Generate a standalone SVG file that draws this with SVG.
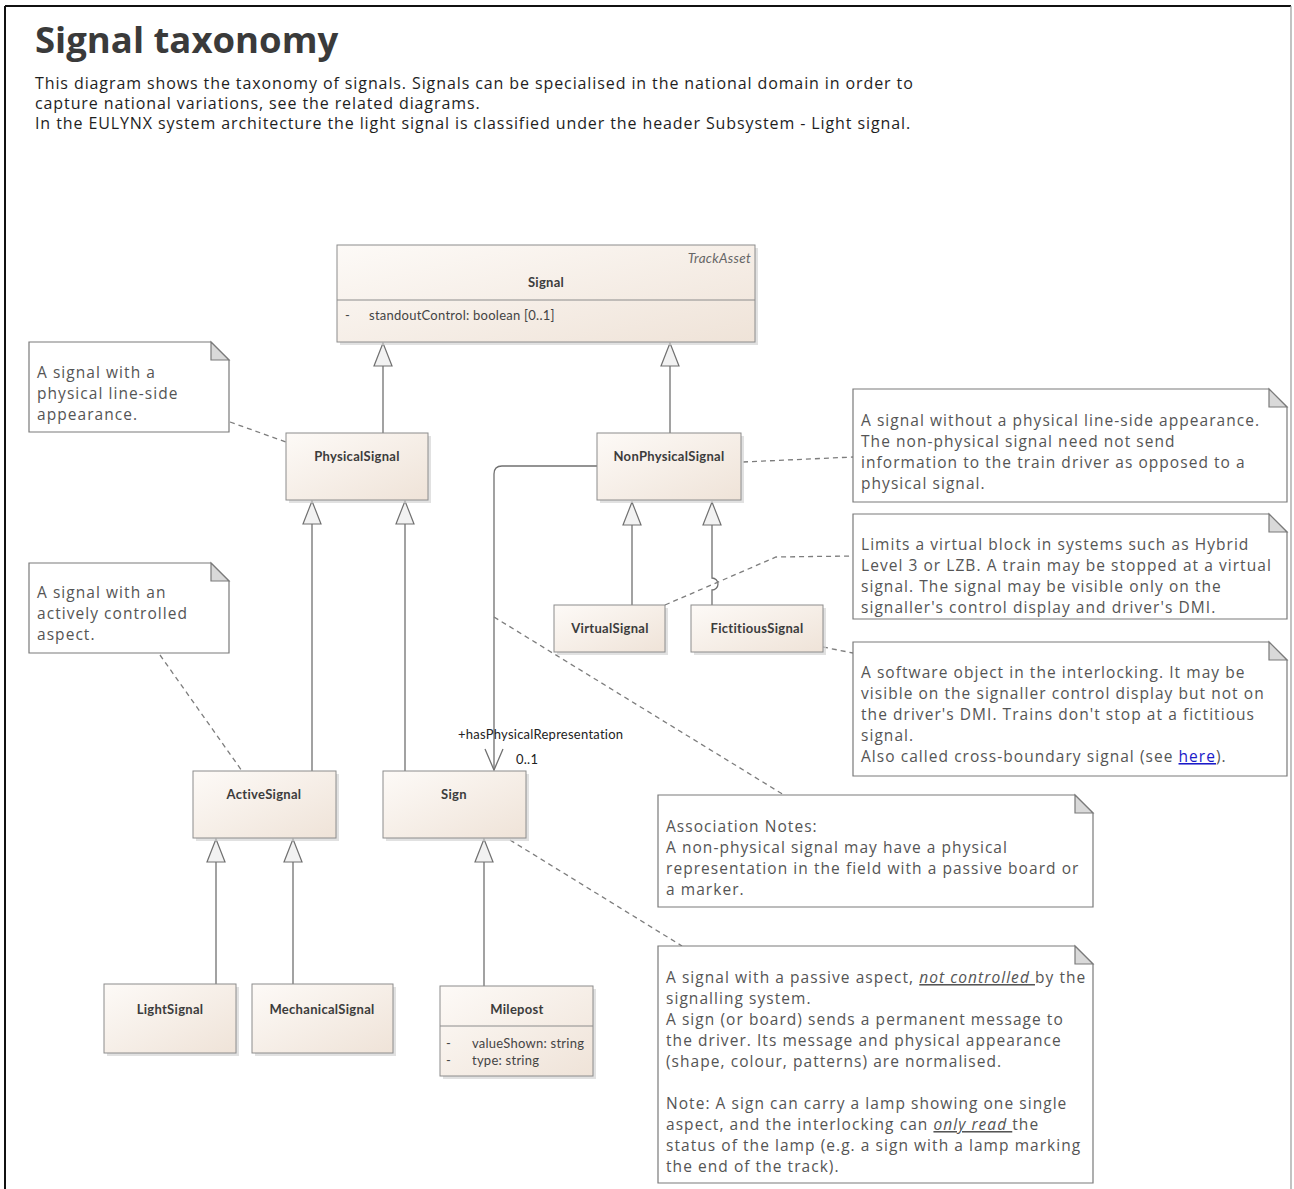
<svg xmlns="http://www.w3.org/2000/svg" width="1294" height="1189" viewBox="0 0 1294 1189">
  <defs>
    <linearGradient id="classFill" x1="0" y1="0" x2="1" y2="1">
      <stop offset="0" stop-color="#fdfaf7"/>
      <stop offset="1" stop-color="#efe3d8"/>
    </linearGradient>
    <!-- hollow generalization triangle, tip at the end of the path -->
    <marker id="genArrow" markerWidth="26" markerHeight="22" refX="25" refY="11" orient="auto" markerUnits="userSpaceOnUse" viewBox="0 0 26 22">
      <path d="M25,11 L2,2 L2,20 Z" fill="#f2f2f2" stroke="#707070" stroke-width="1.2"/>
    </marker>
  </defs>
  <style>
    .frame { fill: #ffffff; stroke: none; }
    .title { font-family: "Open Sans", "Noto Sans", sans-serif; font-weight: bold; font-size: 36.5px; fill: #3a3a3a; }
    .intro { font-family: "Open Sans", "Noto Sans", sans-serif; font-size: 16px; letter-spacing: 0.9px; fill: #1e1e1e; }
    .cls { fill: url(#classFill); stroke: #8c8c8c; stroke-width: 1; }
    .shadow { fill: #d4d4d4; opacity: 0.7; }
    .cname { font-family: Lato, "Liberation Sans", sans-serif; font-weight: bold; font-size: 13px; letter-spacing: 0.3px; fill: #3c3c3c; text-anchor: middle; }
    .attr { font-family: Lato, "Liberation Sans", sans-serif; font-size: 13px; letter-spacing: 0.25px; fill: #444; }
    .stereo { font-family: Lato, "Liberation Sans", sans-serif; font-style: italic; font-size: 13.5px; letter-spacing: 0.3px; fill: #666; text-anchor: end; }
    .note { fill: #ffffff; stroke: #7a7a7a; stroke-width: 1.2; }
    .fold { fill: #d9d9d9; stroke: #7a7a7a; stroke-width: 1.2; }
    .ntext { font-family: "Open Sans", "Noto Sans", sans-serif; font-size: 15.5px; letter-spacing: 1.05px; fill: #555555; }
    .gen { fill: none; stroke: #707070; stroke-width: 1.3; }
    .assoc { fill: none; stroke: #707070; stroke-width: 1.3; }
    .link { fill: none; stroke: #7d7d7d; stroke-width: 1.3; stroke-dasharray: 5 4; }
    .lbl { font-family: Lato, "Liberation Sans", sans-serif; font-size: 13px; letter-spacing: 0.25px; fill: #222; }
    .link-text { fill: #1a1ac8; text-decoration: underline; }
  </style>

  <!-- page frame -->
  <rect class="frame" x="0" y="0" width="1294" height="1189"/>
  <line x1="5" y1="6" x2="1291" y2="6" stroke="#111" stroke-width="2"/>
  <line x1="5" y1="6" x2="5" y2="1189" stroke="#111" stroke-width="2"/>
  <line x1="1291" y1="6" x2="1291" y2="1189" stroke="#9a9a9a" stroke-width="1.2"/>

  <!-- heading and description -->
  <text class="title" x="35" y="53">Signal taxonomy</text>
  <text class="intro" x="35" y="89">This diagram shows the taxonomy of signals. Signals can be specialised in the national domain in order to</text>
  <text class="intro" x="35" y="109">capture national variations, see the related diagrams.</text>
  <text class="intro" x="35" y="129">In the EULYNX system architecture the light signal is classified under the header Subsystem - Light signal.</text>

  <!-- connectors -->
  <g id="connectors">
    <!-- generalizations -->
    <path class="gen" d="M383,433 L383,343" marker-end="url(#genArrow)"/>
    <path class="gen" d="M670,433 L670,343" marker-end="url(#genArrow)"/>
    <path class="gen" d="M312,771 L312,501" marker-end="url(#genArrow)"/>
    <path class="gen" d="M405,771 L405,501" marker-end="url(#genArrow)"/>
    <path class="gen" d="M632,605 L632,502" marker-end="url(#genArrow)"/>
    <path class="gen" d="M712,605 L712,590 A6,6 0 0 0 712,578 L712,502" marker-end="url(#genArrow)"/>
    <path class="gen" d="M216,985 L216,839" marker-end="url(#genArrow)"/>
    <path class="gen" d="M293,985 L293,839" marker-end="url(#genArrow)"/>
    <path class="gen" d="M484,987 L484,839" marker-end="url(#genArrow)"/>

    <!-- association NonPhysicalSignal -> Sign -->
    <path class="assoc" d="M597,466 L502,466 Q494,466 494,474 L494,770"/>
    <path class="assoc" d="M485,749 L494,770 L503,749"/>
    <text class="lbl" x="458" y="739">+hasPhysicalRepresentation</text>
    <text class="lbl" x="516" y="764">0..1</text>

    <!-- note links -->
    <path class="link" d="M230,422 L286,442"/>
    <path class="link" d="M160,655 L242,771"/>
    <path class="link" d="M743,462 L853,457"/>
    <path class="link" d="M665,605 L776,557 L853,556"/>
    <path class="link" d="M823,647 L853,653"/>
    <path class="link" d="M494,617 L784,795"/>
    <path class="link" d="M510,840 L682,946"/>
  </g>

  <!-- class nodes -->
  <g id="signal">
    <rect class="shadow" x="340" y="248" width="418" height="97"/>
    <rect class="cls" x="337" y="245" width="418" height="97"/>
    <line x1="337" y1="300" x2="755" y2="300" stroke="#8c8c8c" stroke-width="1"/>
    <text class="stereo" x="751" y="263">TrackAsset</text>
    <text class="cname" x="546" y="287">Signal</text>
    <text class="attr" x="345" y="320">-</text>
    <text class="attr" x="369" y="320">standoutControl: boolean [0..1]</text>
  </g>

  <g id="physicalSignal">
    <rect class="shadow" x="289" y="436" width="142" height="67"/>
    <rect class="cls" x="286" y="433" width="142" height="67"/>
    <text class="cname" x="357" y="461">PhysicalSignal</text>
  </g>

  <g id="nonPhysicalSignal">
    <rect class="shadow" x="600" y="436" width="144" height="67"/>
    <rect class="cls" x="597" y="433" width="144" height="67"/>
    <text class="cname" x="669" y="461">NonPhysicalSignal</text>
  </g>

  <g id="virtualSignal">
    <rect class="shadow" x="557" y="608" width="111" height="47"/>
    <rect class="cls" x="554" y="605" width="111" height="47"/>
    <text class="cname" x="610" y="633">VirtualSignal</text>
  </g>

  <g id="fictitiousSignal">
    <rect class="shadow" x="694" y="608" width="132" height="47"/>
    <rect class="cls" x="691" y="605" width="132" height="47"/>
    <text class="cname" x="757" y="633">FictitiousSignal</text>
  </g>

  <g id="activeSignal">
    <rect class="shadow" x="196" y="774" width="143" height="67"/>
    <rect class="cls" x="193" y="771" width="143" height="67"/>
    <text class="cname" x="264" y="799">ActiveSignal</text>
  </g>

  <g id="sign">
    <rect class="shadow" x="386" y="774" width="143" height="67"/>
    <rect class="cls" x="383" y="771" width="143" height="67"/>
    <text class="cname" x="454" y="799">Sign</text>
  </g>

  <g id="lightSignal">
    <rect class="shadow" x="107" y="987" width="132" height="69"/>
    <rect class="cls" x="104" y="984" width="132" height="69"/>
    <text class="cname" x="170" y="1014">LightSignal</text>
  </g>

  <g id="mechanicalSignal">
    <rect class="shadow" x="255" y="987" width="141" height="69"/>
    <rect class="cls" x="252" y="984" width="141" height="69"/>
    <text class="cname" x="322" y="1014">MechanicalSignal</text>
  </g>

  <g id="milepost">
    <rect class="shadow" x="443" y="989" width="153" height="90"/>
    <rect class="cls" x="440" y="986" width="153" height="90"/>
    <line x1="440" y1="1026" x2="593" y2="1026" stroke="#8c8c8c" stroke-width="1"/>
    <text class="cname" x="517" y="1014">Milepost</text>
    <text class="attr" x="446" y="1048">-</text>
    <text class="attr" x="472" y="1048">valueShown: string</text>
    <text class="attr" x="446" y="1065">-</text>
    <text class="attr" x="472" y="1065">type: string</text>
  </g>

  <!-- notes -->
  <g id="notePhysical">
    <path class="note" d="M29,342 L211,342 L229,360 L229,432 L29,432 Z"/>
    <path class="fold" d="M211,342 L211,360 L229,360 Z"/>
    <text class="ntext" x="37" y="378">A signal with a</text>
    <text class="ntext" x="37" y="399">physical line-side</text>
    <text class="ntext" x="37" y="420">appearance.</text>
  </g>

  <g id="noteActive">
    <path class="note" d="M29,563 L211,563 L229,581 L229,653 L29,653 Z"/>
    <path class="fold" d="M211,563 L211,581 L229,581 Z"/>
    <text class="ntext" x="37" y="598">A signal with an</text>
    <text class="ntext" x="37" y="619">actively controlled</text>
    <text class="ntext" x="37" y="640">aspect.</text>
  </g>

  <g id="noteNonPhysical">
    <path class="note" d="M853,389 L1269,389 L1287,407 L1287,502 L853,502 Z"/>
    <path class="fold" d="M1269,389 L1269,407 L1287,407 Z"/>
    <text class="ntext" x="861" y="426">A signal without a physical line-side appearance.</text>
    <text class="ntext" x="861" y="447">The non-physical signal need not send</text>
    <text class="ntext" x="861" y="468">information to the train driver as opposed to a</text>
    <text class="ntext" x="861" y="489">physical signal.</text>
  </g>

  <g id="noteVirtual">
    <path class="note" d="M853,514 L1269,514 L1287,532 L1287,619 L853,619 Z"/>
    <path class="fold" d="M1269,514 L1269,532 L1287,532 Z"/>
    <text class="ntext" x="861" y="550">Limits a virtual block in systems such as Hybrid</text>
    <text class="ntext" x="861" y="571">Level 3 or LZB. A train may be stopped at a virtual</text>
    <text class="ntext" x="861" y="592">signal. The signal may be visible only on the</text>
    <text class="ntext" x="861" y="613">signaller's control display and driver's DMI.</text>
  </g>

  <g id="noteFictitious">
    <path class="note" d="M853,642 L1269,642 L1287,660 L1287,776 L853,776 Z"/>
    <path class="fold" d="M1269,642 L1269,660 L1287,660 Z"/>
    <text class="ntext" x="861" y="678">A software object in the interlocking. It may be</text>
    <text class="ntext" x="861" y="699">visible on the signaller control display but not on</text>
    <text class="ntext" x="861" y="720">the driver's DMI. Trains don't stop at a fictitious</text>
    <text class="ntext" x="861" y="741">signal.</text>
    <text class="ntext" x="861" y="762">Also called cross-boundary signal (see <tspan class="link-text">here</tspan>).</text>
  </g>

  <g id="noteAssociation">
    <path class="note" d="M658,795 L1075,795 L1093,813 L1093,907 L658,907 Z"/>
    <path class="fold" d="M1075,795 L1075,813 L1093,813 Z"/>
    <text class="ntext" x="666" y="832">Association Notes:</text>
    <text class="ntext" x="666" y="853">A non-physical signal may have a physical</text>
    <text class="ntext" x="666" y="874">representation in the field with a passive board or</text>
    <text class="ntext" x="666" y="895">a marker.</text>
  </g>

  <g id="noteSign">
    <path class="note" d="M658,946 L1075,946 L1093,964 L1093,1183 L658,1183 Z"/>
    <path class="fold" d="M1075,946 L1075,964 L1093,964 Z"/>
    <text class="ntext" x="666" y="983">A signal with a passive aspect, <tspan font-style="italic" text-decoration="underline">not controlled </tspan>by the</text>
    <text class="ntext" x="666" y="1004">signalling system.</text>
    <text class="ntext" x="666" y="1025">A sign (or board) sends a permanent message to</text>
    <text class="ntext" x="666" y="1046">the driver. Its message and physical appearance</text>
    <text class="ntext" x="666" y="1067">(shape, colour, patterns) are normalised.</text>
    <text class="ntext" x="666" y="1109">Note: A sign can carry a lamp showing one single</text>
    <text class="ntext" x="666" y="1130">aspect, and the interlocking can <tspan font-style="italic" text-decoration="underline">only read </tspan>the</text>
    <text class="ntext" x="666" y="1151">status of the lamp (e.g. a sign with a lamp marking</text>
    <text class="ntext" x="666" y="1172">the end of the track).</text>
  </g>
</svg>
